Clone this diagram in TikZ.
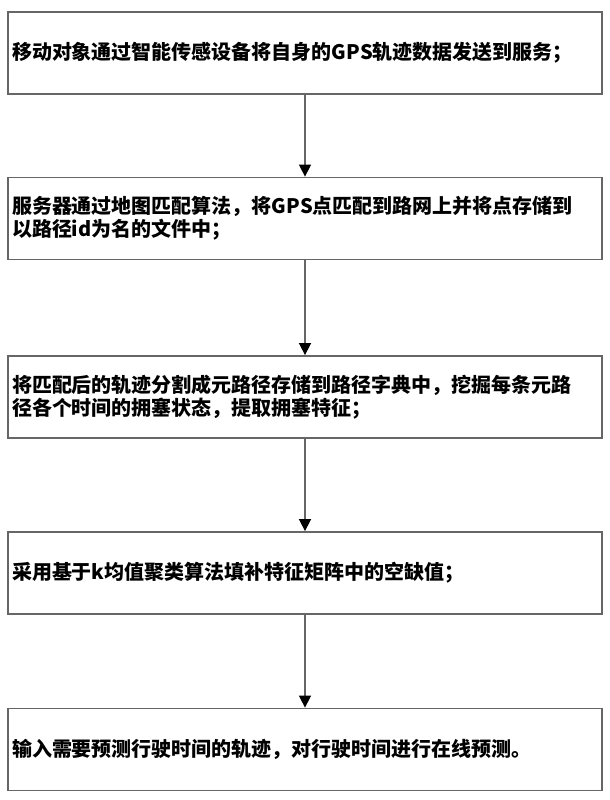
\documentclass[tikz,border=0pt]{standalone}
\usepackage{fontspec}
\newfontfamily\cjk{Noto Sans CJK SC}
\usetikzlibrary{arrows.meta,positioning}
\tikzset{
  >={Triangle[length=6pt,width=6pt,color=black]},
  stepbox/.style={draw=black!60,line width=0.9pt,minimum width=297pt,
                  minimum height=41pt,text width=293pt,inner xsep=2pt,
                  align=left,font=\cjk\bfseries\fontsize{10}{11.5}\selectfont},
  flow/.style={->,draw=black!60,line width=0.8pt},
}

\begin{document}
\begin{tikzpicture}[x=0.5pt,y=0.5pt]
  \useasboundingbox (0,0) rectangle (610,800);
  \node[stepbox] (s1) at (305,747)   {移动对象通过智能传感设备将自身的GPS轨迹数据发送到服务；};
  \node[stepbox] (s2) at (305,581.5) {服务器通过地图匹配算法，将GPS点匹配到路网上并将点存储到\\以路径id为名的文件中；};
  \node[stepbox] (s3) at (305,403)   {将匹配后的轨迹分割成元路径存储到路径字典中，挖掘每条元路\\径各个时间的拥塞状态，提取拥塞特征；};
  \node[stepbox] (s4) at (305,227)   {采用基于k均值聚类算法填补特征矩阵中的空缺值；};
  \node[stepbox] (s5) at (305,50.5)  {输入需要预测行驶时间的轨迹，对行驶时间进行在线预测。};

  \foreach \a/\b in {s1/s2,s2/s3,s3/s4,s4/s5}
    \draw[flow] (\a) -- (\b);
\end{tikzpicture}
\end{document}
